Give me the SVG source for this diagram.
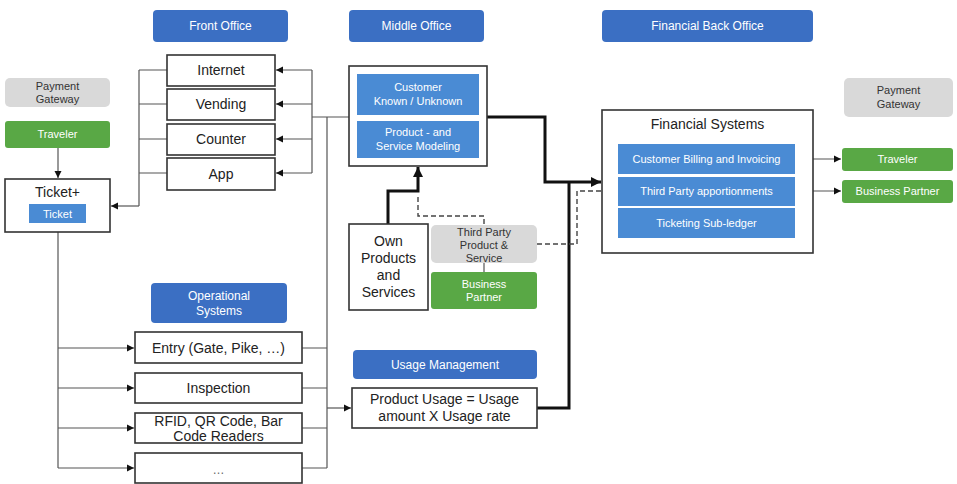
<svg xmlns="http://www.w3.org/2000/svg" width="957" height="484" viewBox="0 0 957 484">
<style>
text{font-family:"Liberation Sans",Arial,sans-serif;text-anchor:middle}
.hdr{fill:#3b6fc3}
.ht{fill:#fff;font-size:12px}
.box{fill:#fff;stroke:#333;stroke-width:1.6}
.bt{fill:#222;font-size:14px}
.inner{fill:#4a8bd4}
.it{fill:#fff;font-size:11px}
.grn{fill:#59a845}
.gry{fill:#d9d9d9}
.gt{fill:#333;font-size:11px}
.ln{fill:none;stroke:#555;stroke-width:1.2}
.thk{fill:none;stroke:#111;stroke-width:3}
.dsh{fill:none;stroke:#444;stroke-width:1.4;stroke-dasharray:5,3}
</style>
<defs>
<marker id="a" markerWidth="8" markerHeight="8" refX="7" refY="4" orient="auto" markerUnits="userSpaceOnUse"><path d="M0,0.5 L7,4 L0,7.5 z" fill="#111"/></marker>
<marker id="ab" markerWidth="12" markerHeight="12" refX="10" refY="5" orient="auto" markerUnits="userSpaceOnUse"><path d="M0,0 L10,5 L0,10 z" fill="#111"/></marker>
</defs>

<g id="hdr-front"><rect class="hdr" x="153" y="10" width="135" height="32" rx="4"/><text class="ht" x="220.5" y="30">Front Office</text></g>
<g id="hdr-middle"><rect class="hdr" x="349" y="10" width="135" height="32" rx="4"/><text class="ht" x="416.5" y="30">Middle Office</text></g>
<g id="hdr-back"><rect class="hdr" x="602" y="10" width="211" height="32" rx="4"/><text class="ht" x="707.5" y="30">Financial Back Office</text></g>
<g id="hdr-ops"><rect class="hdr" x="151" y="283" width="136" height="40" rx="4"/><text class="ht" x="219" y="300">Operational</text><text class="ht" x="219" y="315">Systems</text></g>
<g id="hdr-usage"><rect class="hdr" x="353" y="350" width="184" height="29" rx="4"/><text class="ht" x="445" y="369">Usage Management</text></g>

<g id="connectors">
<path class="ln" d="M167,70 H139 M167,104 H139 M167,139 H139 M167,173 H139 M139,70 V206" />
<path class="ln" d="M139,206 H111" marker-end="url(#a)"/>
<path class="ln" d="M312,70 H276" marker-end="url(#a)"/>
<path class="ln" d="M312,104 H276" marker-end="url(#a)"/>
<path class="ln" d="M312,139 H276" marker-end="url(#a)"/>
<path class="ln" d="M312,173 H276" marker-end="url(#a)"/>
<path class="ln" d="M312,70 V173 M312,117 H349 M327,117 V468"/>
<path class="ln" d="M302,348 H327 M302,388 H327 M302,428 H327 M302,468 H327"/>
<path class="ln" d="M327,408 H351" marker-end="url(#a)"/>
<path class="ln" d="M58,148 V178" marker-end="url(#a)"/>
<path class="ln" d="M58,232 V468"/>
<path class="ln" d="M58,348 H134" marker-end="url(#a)"/>
<path class="ln" d="M58,388 H134" marker-end="url(#a)"/>
<path class="ln" d="M58,428 H134" marker-end="url(#a)"/>
<path class="ln" d="M58,468 H134" marker-end="url(#a)"/>
<path class="thk" d="M487,117 H545 V182 H601" marker-end="url(#ab)"/>
<path class="thk" d="M537,408 H569 V182"/>
<path class="thk" d="M388,224 V191 H418 V167" marker-end="url(#ab)"/>
<path class="dsh" d="M418,197 V216 H484 V225"/>
<path class="dsh" d="M537,244 H577 V191 H616" marker-end="url(#a)"/>
<path class="ln" d="M484,263 V272"/>
<path class="ln" d="M795,159 H841" marker-end="url(#a)"/>
<path class="ln" d="M795,191 H841" marker-end="url(#a)"/>
</g>

<g id="pg-left"><rect class="gry" x="5" y="78" width="105" height="29" rx="5"/><text class="gt" x="57.5" y="90">Payment</text><text class="gt" x="57.5" y="103">Gateway</text></g>
<g id="traveler-left"><rect class="grn" x="5" y="121" width="105" height="27" rx="3"/><text class="it" x="57.5" y="138">Traveler</text></g>
<g id="ticketplus"><rect class="box" x="5" y="179" width="105" height="53"/><text class="bt" x="57.5" y="197">Ticket+</text><rect class="inner" x="29" y="204" width="57" height="19"/><text class="it" x="57.5" y="218">Ticket</text></g>

<g id="internet"><rect class="box" x="167" y="55" width="108" height="31"/><text class="bt" x="221" y="75">Internet</text></g>
<g id="vending"><rect class="box" x="167" y="89" width="108" height="31"/><text class="bt" x="221" y="109">Vending</text></g>
<g id="counter"><rect class="box" x="167" y="124" width="108" height="31"/><text class="bt" x="221" y="144">Counter</text></g>
<g id="app"><rect class="box" x="167" y="158" width="108" height="32"/><text class="bt" x="221" y="179">App</text></g>

<g id="middle"><rect class="box" x="349" y="66" width="138" height="100"/>
<rect class="inner" x="357" y="74" width="122" height="41"/><text class="it" x="418" y="91">Customer</text><text class="it" x="418" y="105">Known / Unknown</text>
<rect class="inner" x="357" y="121" width="122" height="37"/><text class="it" x="418" y="136">Product - and</text><text class="it" x="418" y="150">Service Modeling</text></g>

<g id="own"><rect class="box" x="349" y="224" width="79" height="86"/><text class="bt" x="388.5" y="246">Own</text><text class="bt" x="388.5" y="263">Products</text><text class="bt" x="388.5" y="280">and</text><text class="bt" x="388.5" y="297">Services</text></g>
<g id="thirdparty"><rect class="gry" x="431" y="225" width="106" height="38" rx="5"/><text class="gt" x="484" y="236">Third Party</text><text class="gt" x="484" y="249">Product &amp;</text><text class="gt" x="484" y="262">Service</text></g>
<g id="bp-mid"><rect class="grn" x="431" y="272" width="106" height="37" rx="3"/><text class="it" x="484" y="288">Business</text><text class="it" x="484" y="301">Partner</text></g>

<g id="financial"><rect class="box" x="602" y="110" width="211" height="143"/><text x="707.5" y="129" style="font-size:14px;fill:#222">Financial Systems</text>
<rect class="inner" x="618" y="144" width="177" height="30"/><text class="it" x="706.5" y="163">Customer Billing and Invoicing</text>
<rect class="inner" x="618" y="177" width="177" height="29"/><text class="it" x="706.5" y="195">Third Party apportionments</text>
<rect class="inner" x="618" y="208" width="177" height="30"/><text class="it" x="706.5" y="227">Ticketing Sub-ledger</text></g>

<g id="pg-right"><rect class="gry" x="844" y="78" width="109" height="39" rx="5"/><text class="gt" x="898.5" y="94">Payment</text><text class="gt" x="898.5" y="108">Gateway</text></g>
<g id="traveler-right"><rect class="grn" x="842" y="148" width="111" height="23" rx="3"/><text class="it" x="897.5" y="163">Traveler</text></g>
<g id="bp-right"><rect class="grn" x="842" y="180" width="111" height="23" rx="3"/><text class="it" x="897.5" y="195">Business Partner</text></g>

<g id="entry"><rect class="box" x="135" y="332" width="167" height="31"/><text class="bt" x="218.5" y="353">Entry (Gate, Pike,  …)</text></g>
<g id="inspection"><rect class="box" x="135" y="373" width="167" height="30"/><text class="bt" x="218.5" y="393">Inspection</text></g>
<g id="rfid"><rect class="box" x="135" y="413" width="167" height="30"/><text class="bt" x="218.5" y="426">RFID, QR Code, Bar</text><text class="bt" x="218.5" y="441">Code Readers</text></g>
<g id="more"><rect class="box" x="135" y="453" width="167" height="30"/><text class="bt" x="218.5" y="474" style="font-size:12px;fill:#666">…</text></g>

<g id="usage"><rect class="box" x="352" y="388" width="185" height="40"/><text class="bt" x="444.5" y="404">Product Usage = Usage</text><text class="bt" x="444.5" y="421">amount X Usage rate</text></g>
</svg>
